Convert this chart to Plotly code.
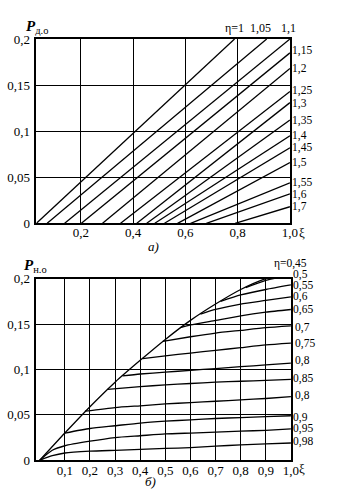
import plotly.graph_objects as go

# ---------------- data: chart а) ----------------
top_eta = ["η=1", "1,05", "1,1", "1,15", "1,2", "1,25", "1,3", "1,35",
           "1,4", "1,45", "1,5", "1,55", "1,6", "1,7"]
top_x0 = [0.03, 0.071, 0.138, 0.202, 0.283, 0.352, 0.414, 0.452,
          0.483, 0.52, 0.57, 0.62, 0.68, 0.79]
top_x1 = [0.788, 0.911, 1.0, 1.0, 1.0, 1.0, 1.0, 1.0,
          1.0, 1.0, 1.0, 1.0, 1.0, 1.0]
top_y1 = [0.2, 0.2, 0.2, 0.185, 0.168, 0.143, 0.131, 0.112,
          0.095, 0.082, 0.066, 0.044, 0.032, 0.018]

# ---------------- data: chart б) ----------------
env_x = [0, 0.1, 0.2, 0.3, 0.4, 0.5, 0.6, 0.7, 0.8, 0.9, 1.0]
env_y = [0, 0.030, 0.059, 0.086, 0.110, 0.133, 0.154, 0.172, 0.188, 0.200, 0.207]

bot_curves = {
    "0,5":  ([0.82, 0.9, 1.0], [0.190, 0.198, 0.204]),
    "0,55": ([0.72, 0.8, 0.9, 1.0], [0.175, 0.182, 0.188, 0.193]),
    "0,6":  ([0.64, 0.7, 0.8, 0.9, 1.0], [0.161, 0.166, 0.172, 0.176, 0.180]),
    "0,65": ([0.56, 0.6, 0.7, 0.8, 0.9, 1.0], [0.146, 0.149, 0.154, 0.159, 0.163, 0.166]),
    "0,7":  ([0.49, 0.6, 0.7, 0.8, 0.9, 1.0], [0.131, 0.136, 0.140, 0.143, 0.146, 0.148]),
    "0,75": ([0.41, 0.5, 0.6, 0.7, 0.8, 0.9, 1.0], [0.112, 0.115, 0.118, 0.121, 0.124, 0.127, 0.129]),
    "0,8":  ([0.33, 0.4, 0.5, 0.6, 0.7, 0.8, 0.9, 1.0], [0.093, 0.095, 0.097, 0.099, 0.101, 0.103, 0.105, 0.107]),
    "0,85": ([0.27, 0.4, 0.5, 0.6, 0.7, 0.8, 0.9, 1.0], [0.078, 0.081, 0.083, 0.0845, 0.086, 0.087, 0.088, 0.089]),
    "0,8 ": ([0.18, 0.3, 0.4, 0.5, 0.6, 0.7, 0.8, 0.9, 1.0], [0.054, 0.058, 0.060, 0.062, 0.0635, 0.065, 0.0665, 0.068, 0.070]),
    "0,9":  ([0.1, 0.2, 0.3, 0.4, 0.5, 0.6, 0.7, 0.8, 0.9, 1.0], [0.030, 0.035, 0.038, 0.041, 0.043, 0.0445, 0.046, 0.047, 0.048, 0.049]),
    "0,95": ([0, 0.05, 0.1, 0.2, 0.3, 0.4, 0.5, 0.6, 0.7, 0.8, 0.9, 1.0],
             [0, 0.011, 0.016, 0.021, 0.025, 0.027, 0.029, 0.030, 0.031, 0.032, 0.033, 0.0345]),
    "0,98": ([0, 0.05, 0.1, 0.2, 0.3, 0.4, 0.5, 0.6, 0.7, 0.8, 0.9, 1.0],
             [0, 0.005, 0.008, 0.010, 0.011, 0.012, 0.013, 0.014, 0.0155, 0.017, 0.018, 0.019]),
}

top_labels_top = ["η=1", "1,05", "1,1"]
top_labels_top_x = [229, 255, 287]
top_labels_side = ["1,15", "1,2", "1,25", "1,3", "1,35", "1,4", "1,45", "1,5", "1,55", "1,6", "1,7"]
top_labels_side_y = [45, 63, 86.5, 99, 117, 132.5, 145, 160, 180.5, 193, 206]
bot_labels = ["η=0,45", "0,5", "0,55", "0,6", "0,65", "0,7", "0,75", "0,8", "0,85", "0,8", "0,9", "0,95", "0,98"]
bot_labels_y = [264.5, 276, 287, 298.5, 311.5, 330, 346.5, 364, 383, 401, 423, 435, 448]
bot_labels_x = [279, 298.5, 298.5, 298.5, 298.5, 301, 301, 301, 298.5, 301, 298.5, 298.5, 298.5]

W, H = 352, 500
FONT = "Liberation Serif"
LW = 1.3

fig = go.Figure()

for x0, x1, y1 in zip(top_x0, top_x1, top_y1):
    fig.add_trace(go.Scatter(x=[x0, x1], y=[0, y1], mode="lines",
                             line=dict(color="black", width=LW),
                             xaxis="x", yaxis="y", showlegend=False, hoverinfo="skip"))

fig.add_trace(go.Scatter(x=env_x, y=env_y, mode="lines",
                         line=dict(color="black", width=LW, shape="spline", smoothing=0.6),
                         xaxis="x2", yaxis="y2", showlegend=False, hoverinfo="skip"))
for name, (xs, ys) in bot_curves.items():
    fig.add_trace(go.Scatter(x=xs, y=ys, mode="lines",
                             line=dict(color="black", width=LW, shape="spline", smoothing=0.6),
                             xaxis="x2", yaxis="y2", showlegend=False, hoverinfo="skip"))

tickfont = dict(family=FONT, size=13, color="black")
axis_common = dict(showgrid=True, gridcolor="black", gridwidth=1.4,
                   showline=True, linecolor="black", linewidth=1.5, mirror=True,
                   zeroline=False, ticks="", tickfont=tickfont, fixedrange=True)

fig.update_layout(
    width=W, height=H, autosize=False,
    margin=dict(l=0, r=0, t=0, b=0),
    paper_bgcolor="white", plot_bgcolor="white",
    xaxis=dict(domain=[37.3 / W, 296.7 / W], range=[0.03, 1.0], anchor="y",
               tickvals=[0.2, 0.4, 0.6, 0.8, 1.0],
               ticktext=["0,2", "0,4", "0,6", "0,8", "1,0"], ticklabelstandoff=-4, **axis_common),
    yaxis=dict(domain=[1 - 223 / H, 1 - 33 / H], range=[0, 0.2], anchor="x",
               tickvals=[0, 0.05, 0.1, 0.15, 0.2],
               ticktext=["0", "0,05", "0,1", "0,15", "0,2"], ticklabelstandoff=2, **axis_common),
    xaxis2=dict(domain=[37.3 / W, 297.7 / W], range=[-0.013, 1.0], anchor="y2",
                tickvals=[0.1, 0.2, 0.3, 0.4, 0.5, 0.6, 0.7, 0.8, 0.9, 1.0],
                ticktext=["0,1", "0,2", "0,3", "0,4", "0,5", "0,6", "0,7", "0,8", "0,9", "1,0"],
                ticklabelstandoff=-3, **axis_common),
    yaxis2=dict(domain=[1 - 467.3 / H, 1 - 280 / H], range=[0, 0.2], anchor="x2",
                tickvals=[0, 0.05, 0.1, 0.15, 0.2],
                ticktext=["0", "0,05", "0,1", "0,15", "0,2"], ticklabelstandoff=2, **axis_common),
)

def ann(text, px, py, xanchor="left", size=11.5, italic=False):
    fig.add_annotation(text=text, x=px / W, y=1 - py / H, xref="paper", yref="paper",
                       xanchor=xanchor, yanchor="middle", showarrow=False, borderpad=0,
                       font=dict(family=FONT, size=size, color="black",
                                 style="italic" if italic else "normal"))

for t, px in zip(top_labels_top, top_labels_top_x):
    ann(t, px, 22, size=12)
for t, py in zip(top_labels_side, top_labels_side_y):
    ann(t, 298, py)
for t, px, py in zip(bot_labels, bot_labels_x, bot_labels_y):
    ann(t, px, py)

ann("ξ", 305, 232, size=13)
ann("ξ", 305, 476, size=13)
ann("<b><i>P</i></b><sub>д.о</sub>", 26, 21, size=15)
ann("<b><i>P</i></b><sub>н.о</sub>", 24, 267, size=15)
ann("а)", 157, 247, xanchor="center", size=13, italic=True)
ann("б)", 154, 489, xanchor="center", size=13, italic=True)

fig.write_html("out.html")
